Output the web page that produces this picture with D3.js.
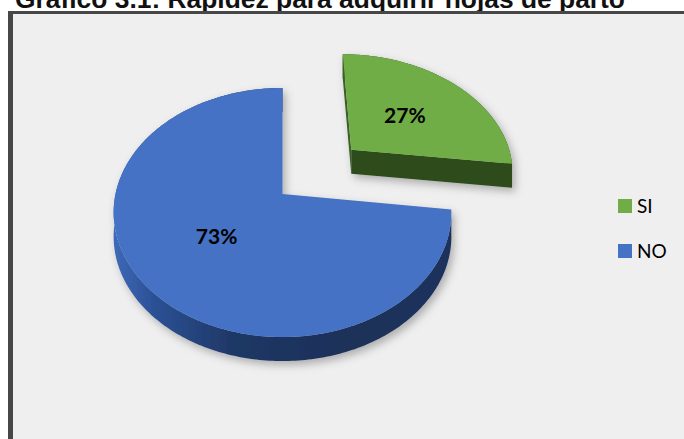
<!DOCTYPE html>
<html>
<head>
<meta charset="utf-8">
<script src="https://cdn.jsdelivr.net/npm/d3@7"></script>
<style>
  html, body { margin: 0; padding: 0; background: #ffffff; }
  svg { display: block; }
</style>
</head>
<body>
<svg id="chart" width="684" height="439"></svg>
<script>
// Chart data
const title = "Gráfico 3.1: Rapidez para adquirir hojas de parto";
const categories = ["SI", "NO"];
const values = [27, 73];
const topColors = ["#70ad47", "#4472c4"];
const sideColors = ["#2f4c1f", "#1d335e"];
const explodeBy = [0.58, 0];

const W = 684, H = 439;
const svg = d3.select("#chart");

// Tilted pie projection: disk coords (u right, v back), unit radius
const CX = 282.5, CY = 194, A = 167, B = 121.8, P = 0.1486, DEPTH = 24;
function proj(u, v, down) {
  const w = 1 + P * v;
  return [CX + A * u / w, CY - B * v / w + (down ? DEPTH : 0)];
}

const defs = svg.append("defs");
const sh = defs.append("filter").attr("id", "shadow")
  .attr("x", "-20%").attr("y", "-20%").attr("width", "140%").attr("height", "140%");
sh.append("feDropShadow").attr("dx", 3).attr("dy", 4).attr("stdDeviation", 4)
  .attr("flood-color", "#000").attr("flood-opacity", 0.28);

const sideGrad = defs.append("linearGradient").attr("id", "blueSide")
  .attr("gradientUnits", "userSpaceOnUse")
  .attr("x1", 112).attr("y1", 0).attr("x2", 452).attr("y2", 0);
[[0, "#3f6ab8"], [0.12, "#2c5196"], [0.35, "#1f3866"], [0.7, "#1b3058"], [1, "#1c325c"]]
  .forEach(([o, c]) => sideGrad.append("stop").attr("offset", o).attr("stop-color", c));

// Title (partly above the top edge)
svg.append("text")
  .attr("x", 15).attr("y", 7.5)
  .attr("font-family", "'Liberation Sans', Arial, sans-serif")
  .attr("font-weight", "bold").attr("font-size", 26)
  .attr("textLength", 610).attr("lengthAdjust", "spacingAndGlyphs")
  .attr("fill", "#111")
  .text(title);

// Chart area frame
svg.append("rect").attr("x", 8).attr("y", 11).attr("width", W - 8).attr("height", H - 11)
  .attr("fill", "#474747");
svg.append("rect").attr("x", 13).attr("y", 14).attr("width", W - 13).attr("height", H - 14)
  .attr("fill", "#efefef");

// Pie layout
const rows = categories.map((c, i) => ({ cat: c, value: values[i], i }));
const total = d3.sum(values);
const arcs = d3.pie().sort(null).value(d => d.value)(rows);

const line = d3.line().curve(d3.curveLinearClosed);
function arcPts(s, a0, a1, down) {
  const n = Math.max(8, Math.ceil(Math.abs(a1 - a0) * 60));
  return d3.range(n + 1).map(k => {
    const t = a0 + (a1 - a0) * k / n;
    return proj(s.ou + Math.sin(t), s.ov + Math.cos(t), down);
  });
}

const pieG = svg.append("g").attr("filter", "url(#shadow)");

const slices = arcs.map(a => {
  const mid = (a.startAngle + a.endAngle) / 2;
  const e = explodeBy[a.data.i];
  return { a, ou: e * Math.sin(mid), ov: e * Math.cos(mid), mid };
});

// Back (exploded) slice first, then the front one
slices.forEach(s => {
  const { a } = s;
  const i = a.data.i;
  const g = pieG.append("g");
  const sideFill = i === 1 ? "url(#blueSide)" : sideColors[i];
  const cTop = proj(s.ou, s.ov, false), cBot = proj(s.ou, s.ov, true);

  // outer wall
  const topArc = arcPts(s, a.startAngle, a.endAngle, false);
  const botArc = arcPts(s, a.startAngle, a.endAngle, true).reverse();
  g.append("path").attr("d", line(topArc.concat(botArc))).attr("fill", sideFill);

  // cut faces for the exploded slice
  if (explodeBy[i] > 0) {
    [a.startAngle, a.endAngle].forEach((t, k) => {
      const pT = proj(s.ou + Math.sin(t), s.ov + Math.cos(t), false);
      const pB = proj(s.ou + Math.sin(t), s.ov + Math.cos(t), true);
      g.append("path").attr("d", line([cTop, pT, pB, cBot]))
        .attr("fill", k === 0 ? "#3b5f27" : sideColors[i]);
    });
  }

  // top face
  g.append("path").attr("d", line([cTop].concat(topArc))).attr("fill", topColors[i]);
});

// Percentage labels
slices.forEach(s => {
  const r = 0.5;
  const p = proj(s.ou + r * Math.sin(s.mid), s.ov + r * Math.cos(s.mid), false);
  svg.append("text")
    .attr("x", p[0]).attr("y", p[1] + 7.5)
    .attr("text-anchor", "middle")
    .attr("font-family", "Lato, 'Open Sans', sans-serif")
    .attr("font-weight", "bold").attr("font-size", 21)
    .attr("fill", "#000")
    .text(Math.round(s.a.data.value / total * 100) + "%");
});

// Legend
const legend = svg.append("g").attr("transform", "translate(618,199)");
categories.forEach((c, i) => {
  const row = legend.append("g").attr("transform", `translate(0,${i * 45})`);
  row.append("rect").attr("width", 14).attr("height", 14).attr("fill", topColors[i]);
  row.append("text").attr("x", 19).attr("y", 14)
    .attr("font-family", "Lato, 'Open Sans', sans-serif")
    .attr("font-size", 19).attr("fill", "#000")
    .text(c);
});
</script>
</body>
</html>
